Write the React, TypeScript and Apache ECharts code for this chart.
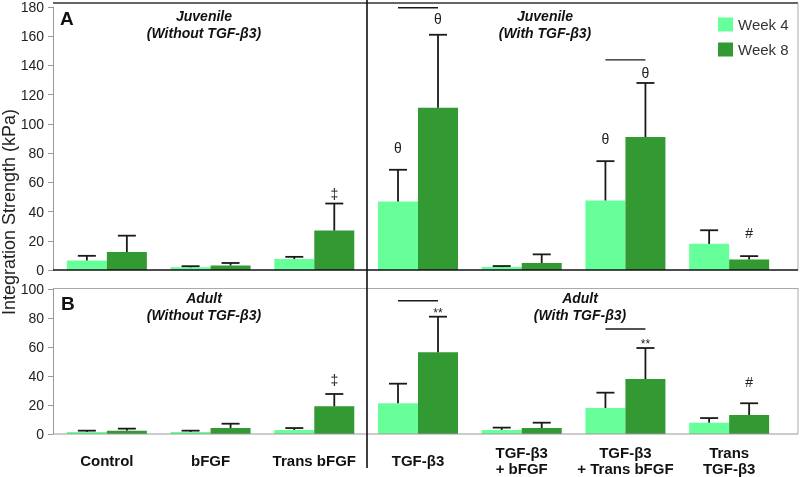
import React, { useEffect, useRef } from "react";
import * as echarts from "echarts";

const categories = [
  "Control",
  "bFGF",
  "Trans bFGF",
  "TGF-β3",
  "TGF-β3\n+ bFGF",
  "TGF-β3\n+ Trans bFGF",
  "Trans\nTGF-β3",
];

const seriesNames = ["Week 4", "Week 8"];

// Juvenile (panel A)
const juvWeek4 = [6.5, 1.8, 7.5, 46.9, 2.0, 47.6, 17.9];
const juvWeek4Upper = [9.7, 2.6, 9.0, 68.6, 2.7, 74.5, 27.2];
const juvWeek8 = [12.3, 3.1, 27.0, 111, 4.8, 91, 7.2];
const juvWeek8Upper = [23.5, 4.8, 45.5, 161, 10.7, 128, 9.5];

// Adult (panel B)
const adWeek4 = [1.4, 1.4, 2.8, 21.2, 2.8, 17.9, 7.8];
const adWeek4Upper = [2.3, 2.3, 4.1, 34.7, 4.4, 28.5, 11.0];
const adWeek8 = [2.3, 4.1, 19.1, 56.3, 4.1, 37.9, 13.1];
const adWeek8Upper = [3.7, 7.1, 27.6, 80.9, 7.8, 59.3, 21.2];

// significance marks: [category, series (0 = week4, 1 = week8), y value]
const juvMarks = [
  [3, 0, 83.8],
  [3, 1, 172],
  [5, 0, 89.5],
  [5, 1, 135],
  [6, 1, 25.6],
  [2, 1, 52],
];
const juvMarkTexts = ["θ", "θ", "θ", "θ", "#", "‡"];
const adMarks = [
  [2, 1, 37.2],
  [3, 1, 83.4],
  [5, 1, 62],
  [6, 1, 36],
];
const adMarkTexts = ["‡", "**", "**", "#"];

// comparison brackets: [category, y value]
const juvBrackets = [
  [3, 179.5],
  [5, 143.8],
];
const adBrackets = [
  [3, 91.9],
  [5, 72.4],
];

const juvTicksMax = 180;
const adTicksMax = 100;
const tickStep = 20;

const LIGHT = "#66ff99";
const DARK = "#339933";
const FONT = "'Liberation Sans', Arial, sans-serif";
const HALF = 20;

function errRender(sign: number) {
  return (params: any, api: any) => {
    const c = api.value(0);
    const m = api.value(1);
    const u = api.value(2);
    const p0 = api.coord([c, m]);
    const p1 = api.coord([c, u]);
    const x = p0[0] + sign * HALF;
    const st = { stroke: "#1a1a1a", lineWidth: 1.8 };
    return {
      type: "group",
      children: [
        { type: "line", shape: { x1: x, y1: p0[1], x2: x, y2: p1[1] }, style: st },
        { type: "line", shape: { x1: x - 9, y1: p1[1], x2: x + 9, y2: p1[1] }, style: st },
      ],
    };
  };
}

function markRender(texts: string[]) {
  return (params: any, api: any) => {
    const c = api.value(0);
    const s = api.value(1);
    const y = api.value(2);
    const p = api.coord([c, y]);
    const t = texts[params.dataIndex];
    return {
      type: "text",
      x: p[0] + (s === 0 ? -HALF : HALF),
      y: p[1],
      style: {
        text: t,
        font: `${t === "**" ? 12 : 14}px ${FONT}`,
        fill: "#222",
        align: "center",
        verticalAlign: "middle",
      },
    };
  };
}

function bracketRender(params: any, api: any) {
  const c = api.value(0);
  const y = api.value(1);
  const p = api.coord([c, y]);
  return {
    type: "line",
    shape: { x1: p[0] - HALF, y1: p[1], x2: p[0] + HALF, y2: p[1] },
    style: { stroke: "#1a1a1a", lineWidth: 1.3 },
  };
}

export default function App() {
  const ref = useRef<HTMLDivElement>(null);
  useEffect(() => {
    if (!ref.current) return;
    document.body.style.margin = "0";
    const chart = echarts.init(ref.current, undefined, { renderer: "svg" });

    const yAxisCommon = {
      type: "value",
      min: 0,
      interval: tickStep,
      offset: 2,
      axisLine: { show: true, lineStyle: { color: "#999", width: 1 } },
      axisTick: { show: true, length: 5, lineStyle: { color: "#999" } },
      axisLabel: { color: "#222", fontSize: 14, fontFamily: FONT, margin: 9 },
      splitLine: { show: false },
    };

    const errData = (m: number[], u: number[]) => m.map((v, i) => [i, v, u[i]]);

    const titleStyle = {
      font: `italic bold 14px ${FONT}`,
      lineHeight: 17,
      fill: "#111",
      align: "center",
      verticalAlign: "middle",
    };

    const option: any = {
      animation: false,
      textStyle: { fontFamily: FONT },
      legend: {
        data: seriesNames,
        orient: "vertical",
        left: 713,
        top: 12,
        itemWidth: 15,
        itemHeight: 14,
        itemGap: 10,
        icon: "rect",
        textStyle: { fontSize: 15, color: "#333", fontFamily: FONT },
        selectedMode: false,
      },
      grid: [
        { left: 55, right: 19, top: 4, bottom: 207 },
        { left: 55, right: 19, top: 289, bottom: 43 },
      ],
      xAxis: [
        {
          type: "category",
          gridIndex: 0,
          data: categories,
          axisLine: { show: false },
          axisTick: { show: false },
          axisLabel: { show: false },
        },
        {
          type: "category",
          gridIndex: 1,
          data: categories,
          axisLine: { show: false },
          axisTick: { show: false },
          axisLabel: {
            interval: 0,
            fontWeight: "bold",
            fontSize: 15,
            color: "#111",
            fontFamily: FONT,
            lineHeight: 16,
            verticalAlign: "middle",
            margin: 26,
          },
        },
      ],
      yAxis: [
        { ...yAxisCommon, gridIndex: 0, max: juvTicksMax },
        { ...yAxisCommon, gridIndex: 1, max: adTicksMax },
      ],
      series: [
        { name: seriesNames[0], type: "bar", xAxisIndex: 0, yAxisIndex: 0, data: juvWeek4, barWidth: 40, barGap: "0%", itemStyle: { color: LIGHT } },
        { name: seriesNames[1], type: "bar", xAxisIndex: 0, yAxisIndex: 0, data: juvWeek8, barWidth: 40, barGap: "0%", itemStyle: { color: DARK } },
        { name: seriesNames[0], type: "bar", xAxisIndex: 1, yAxisIndex: 1, data: adWeek4, barWidth: 40, barGap: "0%", itemStyle: { color: LIGHT } },
        { name: seriesNames[1], type: "bar", xAxisIndex: 1, yAxisIndex: 1, data: adWeek8, barWidth: 40, barGap: "0%", itemStyle: { color: DARK } },
        { name: "errJ4", type: "custom", xAxisIndex: 0, yAxisIndex: 0, renderItem: errRender(-1), data: errData(juvWeek4, juvWeek4Upper), z: 5 },
        { name: "errJ8", type: "custom", xAxisIndex: 0, yAxisIndex: 0, renderItem: errRender(1), data: errData(juvWeek8, juvWeek8Upper), z: 5 },
        { name: "errA4", type: "custom", xAxisIndex: 1, yAxisIndex: 1, renderItem: errRender(-1), data: errData(adWeek4, adWeek4Upper), z: 5 },
        { name: "errA8", type: "custom", xAxisIndex: 1, yAxisIndex: 1, renderItem: errRender(1), data: errData(adWeek8, adWeek8Upper), z: 5 },
        { name: "marksJ", type: "custom", xAxisIndex: 0, yAxisIndex: 0, renderItem: markRender(juvMarkTexts), data: juvMarks, z: 6 },
        { name: "marksA", type: "custom", xAxisIndex: 1, yAxisIndex: 1, renderItem: markRender(adMarkTexts), data: adMarks, z: 6 },
        { name: "bracketsJ", type: "custom", xAxisIndex: 0, yAxisIndex: 0, renderItem: bracketRender, data: juvBrackets, z: 6 },
        { name: "bracketsA", type: "custom", xAxisIndex: 1, yAxisIndex: 1, renderItem: bracketRender, data: adBrackets, z: 6 },
      ],
      graphic: [
        // frames
        { type: "line", shape: { x1: 53, y1: 3, x2: 798, y2: 3 }, style: { stroke: "#666", lineWidth: 2 }, z: 10 },
        { type: "line", shape: { x1: 798, y1: 3, x2: 798, y2: 270 }, style: { stroke: "#aaa", lineWidth: 1 }, z: 10 },
        { type: "line", shape: { x1: 53, y1: 270, x2: 798, y2: 270 }, style: { stroke: "#111", lineWidth: 1.6 }, z: 10 },
        { type: "line", shape: { x1: 53, y1: 288.5, x2: 798, y2: 288.5 }, style: { stroke: "#aaa", lineWidth: 1 }, z: 10 },
        { type: "line", shape: { x1: 798, y1: 288, x2: 798, y2: 434 }, style: { stroke: "#aaa", lineWidth: 1 }, z: 10 },
        { type: "line", shape: { x1: 53, y1: 434, x2: 798, y2: 434 }, style: { stroke: "#999", lineWidth: 1 }, z: 10 },
        { type: "line", shape: { x1: 367, y1: 0, x2: 367, y2: 468 }, style: { stroke: "#111", lineWidth: 1.6 }, z: 10 },
        // axis name
        {
          type: "text",
          x: 9,
          y: 212,
          rotation: Math.PI / 2,
          style: {
            text: "Integration Strength (kPa)",
            font: `18px ${FONT}`,
            fill: "#222",
            align: "center",
            verticalAlign: "middle",
          },
        },
        // panel letters
        { type: "text", x: 60, y: 18, style: { text: "A", font: `bold 19px ${FONT}`, fill: "#111", verticalAlign: "middle" } },
        { type: "text", x: 61, y: 303, style: { text: "B", font: `bold 19px ${FONT}`, fill: "#111", verticalAlign: "middle" } },
        // panel titles
        { type: "text", x: 204, y: 24.5, style: { ...titleStyle, text: "Juvenile\n(Without TGF-β3)" } },
        { type: "text", x: 545, y: 24.5, style: { ...titleStyle, text: "Juvenile\n(With TGF-β3)" } },
        { type: "text", x: 204, y: 306.5, style: { ...titleStyle, text: "Adult\n(Without TGF-β3)" } },
        { type: "text", x: 580, y: 306.5, style: { ...titleStyle, text: "Adult\n(With TGF-β3)" } },
      ],
    };

    chart.setOption(option);
    return () => chart.dispose();
  }, []);

  return (
    <div
      ref={ref}
      style={{ position: "fixed", left: 0, top: 0, width: 800, height: 477 }}
    />
  );
}
